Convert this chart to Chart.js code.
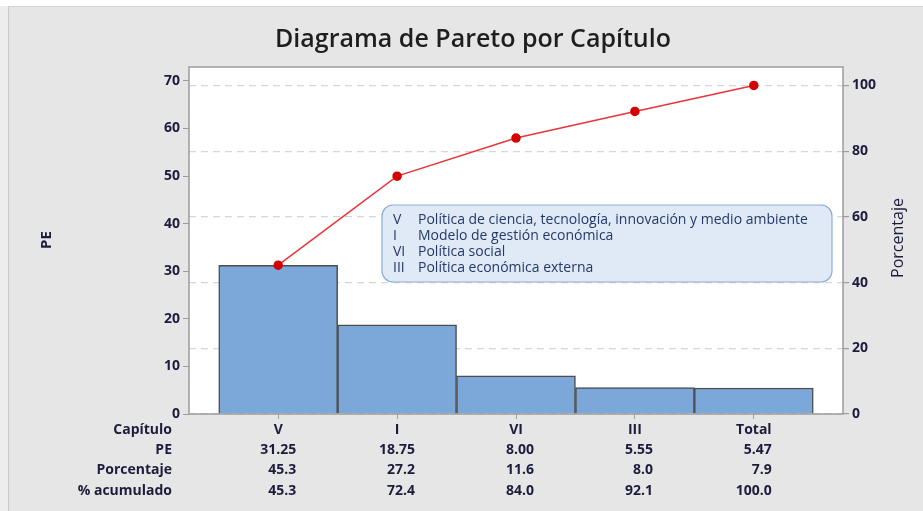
<!DOCTYPE html>
<html>
<head>
<meta charset="utf-8">
<script src="https://cdn.jsdelivr.net/npm/chart.js@4.4.1/dist/chart.umd.min.js"></script>
<style>
  html, body { margin: 0; padding: 0; background: #ffffff; }
  #wrap { position: relative; width: 923px; height: 511px; overflow: hidden; }
  #bg { position: absolute; left: 8px; top: 6px; width: 915px; height: 505px;
        background: #e6e6e6; border-left: 1px solid #c9c9c9; border-top: 1px solid #d4d4d4; }
  #side { position: absolute; left: 0; top: 6px; width: 8px; height: 505px; background: #ededed; }
  canvas { position: absolute; left: 0; top: 0; }
</style>
</head>
<body>
<div id="wrap">
  <div id="side"></div>
  <div id="bg"></div>
  <canvas id="pareto" width="923" height="511"></canvas>
</div>
<script>
// =========================
// DATA
// =========================

const chartTitle = "Diagrama de Pareto por Capítulo";
const chapters = ["V", "I", "VI", "III", "Total"];
const peValues = [31.25, 18.75, 8.0, 5.55, 5.47];
const percentValues = [45.3, 27.2, 11.6, 8.0, 7.9];
const cumulativeValues = [45.3, 72.4, 84.0, 92.1, 100.0];

const rowLabels = ["Capítulo", "PE", "Porcentaje", "% acumulado"];

const legendCodes = ["V", "I", "VI", "III"];
const legendNames = [
  "Política de ciencia, tecnología, innovación y medio ambiente",
  "Modelo de gestión económica",
  "Política social",
  "Política económica externa",
];

const leftTicks = [0, 10, 20, 30, 40, 50, 60, 70];
const rightTicks = [0, 20, 40, 60, 80, 100];

// =========================
// SCALE LIMITS
// =========================

const totalPE = peValues.reduce((a, b) => a + b, 0);
const leftMax = 72.9;
const rightMax = (leftMax / totalPE) * 100;

const FONT = "'Open Sans', 'Noto Sans', sans-serif";
const INK = "#1c1c3c";

// =========================
// PLUGIN: title, plot area, table, legend box, axis titles
// =========================

const paretoExtras = {
  id: "paretoExtras",
  beforeDraw(chart) {
    const { ctx, chartArea: a } = chart;
    ctx.save();
    ctx.fillStyle = "#ffffff";
    ctx.fillRect(a.left, a.top, a.right - a.left, a.bottom - a.top);
    ctx.restore();
  },
  afterDraw(chart) {
    const { ctx, chartArea: a } = chart;
    const xs = chart.scales.x;

    ctx.save();

    // title
    ctx.fillStyle = "#1e1e1e";
    ctx.textAlign = "center";
    ctx.textBaseline = "middle";
    ctx.font = "600 25px " + FONT;
    ctx.fillText(chartTitle, 473, 40);

    // plot border
    ctx.strokeStyle = "#9c9c9c";
    ctx.lineWidth = 1.5;
    ctx.strokeRect(a.left, a.top, a.right - a.left, a.bottom - a.top);

    // axis titles
    ctx.fillStyle = INK;
    ctx.save();
    ctx.translate(47, 240);
    ctx.rotate(-Math.PI / 2);
    ctx.font = "bold 15px " + FONT;
    ctx.fillText("PE", 0, 0);
    ctx.restore();

    ctx.save();
    ctx.translate(898, 238);
    ctx.rotate(-Math.PI / 2);
    ctx.font = "16px " + FONT;
    ctx.fillText("Porcentaje", 0, 0);
    ctx.restore();

    // data table under the chart
    const rowY = [430, 450, 470, 491];
    ctx.font = "bold 14px " + FONT;
    ctx.textAlign = "right";
    rowLabels.forEach((lab, r) => ctx.fillText(lab, 172, rowY[r]));

    chapters.forEach((c, i) => {
      const x = xs.getPixelForValue(i);
      ctx.textAlign = "center";
      ctx.fillText(c, x, rowY[0]);
      ctx.textAlign = "right";
      ctx.fillText(peValues[i].toFixed(2), x + 18, rowY[1]);
      ctx.fillText(percentValues[i].toFixed(1), x + 18, rowY[2]);
      ctx.fillText(cumulativeValues[i].toFixed(1), x + 18, rowY[3]);
    });

    // legend box
    const bx = 382, by = 205, bw = 450, bh = 77, r = 11;
    ctx.beginPath();
    ctx.moveTo(bx + r, by);
    ctx.arcTo(bx + bw, by, bx + bw, by + bh, r);
    ctx.arcTo(bx + bw, by + bh, bx, by + bh, r);
    ctx.arcTo(bx, by + bh, bx, by, r);
    ctx.arcTo(bx, by, bx + bw, by, r);
    ctx.closePath();
    ctx.fillStyle = "#dfeaf6";
    ctx.fill();
    ctx.strokeStyle = "#8eaed0";
    ctx.lineWidth = 1.2;
    ctx.stroke();

    ctx.font = "14px " + FONT;
    ctx.fillStyle = "#24386a";
    ctx.textAlign = "left";
    const lineY = [220, 236, 252, 268];
    legendCodes.forEach((code, i) => {
      ctx.fillText(code, 393, lineY[i]);
      ctx.fillText(legendNames[i], 418, lineY[i]);
    });

    ctx.restore();
  },
};

// =========================
// CHART
// =========================

const paretoChart = new Chart(document.getElementById("pareto"), {
  type: "bar",
  data: {
    datasets: [
      {
        type: "line",
        label: "% acumulado",
        data: cumulativeValues.map((v, i) => ({ x: i, y: v })),
        yAxisID: "y1",
        borderColor: "#e8343a",
        borderWidth: 1.5,
        pointBackgroundColor: "#d40000",
        pointBorderColor: "#d40000",
        pointRadius: 4,
        tension: 0,
        order: 0,
      },
      {
        label: "PE",
        data: peValues.map((v, i) => ({ x: i, y: v })),
        yAxisID: "y",
        backgroundColor: "#7ba7d9",
        borderColor: "#4d4d4d",
        borderWidth: 1.5,
        barPercentage: 1,
        categoryPercentage: 1,
        order: 1,
      },
    ],
  },
  options: {
    responsive: false,
    animation: false,
    layout: { padding: { top: 67, left: 0, right: 0, bottom: 0 } },
    plugins: {
      legend: { display: false },
      tooltip: { enabled: false },
      title: { display: false },
    },
    scales: {
      x: {
        type: "linear",
        offset: false,
        min: -0.75,
        max: chapters.length - 0.25,
        afterBuildTicks: (s) => {
          s.ticks = chapters.map((_, i) => ({ value: i }));
        },
        afterFit: (s) => {
          s.height = 97;
        },
        ticks: { display: false },
        grid: {
          offset: false,
          drawOnChartArea: false,
          drawTicks: true,
          tickLength: 5,
          tickColor: "#9c9c9c",
        },
        border: { display: false },
      },
      y: {
        position: "left",
        min: 0,
        max: leftMax,
        afterBuildTicks: (s) => {
          s.ticks = leftTicks.map((v) => ({ value: v }));
        },
        afterFit: (s) => {
          s.width = 189;
        },
        ticks: {
          color: INK,
          font: { family: FONT, size: 14, weight: "bold" },
          padding: 3,
        },
        grid: {
          drawOnChartArea: false,
          drawTicks: true,
          tickLength: 6,
          tickColor: "#9c9c9c",
        },
        border: { display: false },
      },
      y1: {
        position: "right",
        min: 0,
        max: rightMax,
        afterBuildTicks: (s) => {
          s.ticks = rightTicks.map((v) => ({ value: v }));
        },
        afterFit: (s) => {
          s.width = 80;
        },
        ticks: {
          color: INK,
          font: { family: FONT, size: 14, weight: "bold" },
          padding: 3,
        },
        grid: {
          drawOnChartArea: true,
          color: "#d6d6d6",
          lineWidth: 1.2,
          drawTicks: true,
          tickLength: 6,
          tickColor: "#9c9c9c",
          tickBorderDash: [],
        },
        border: { display: false, dash: [7, 5] },
      },
    },
  },
  plugins: [paretoExtras],
});
</script>
</body>
</html>
